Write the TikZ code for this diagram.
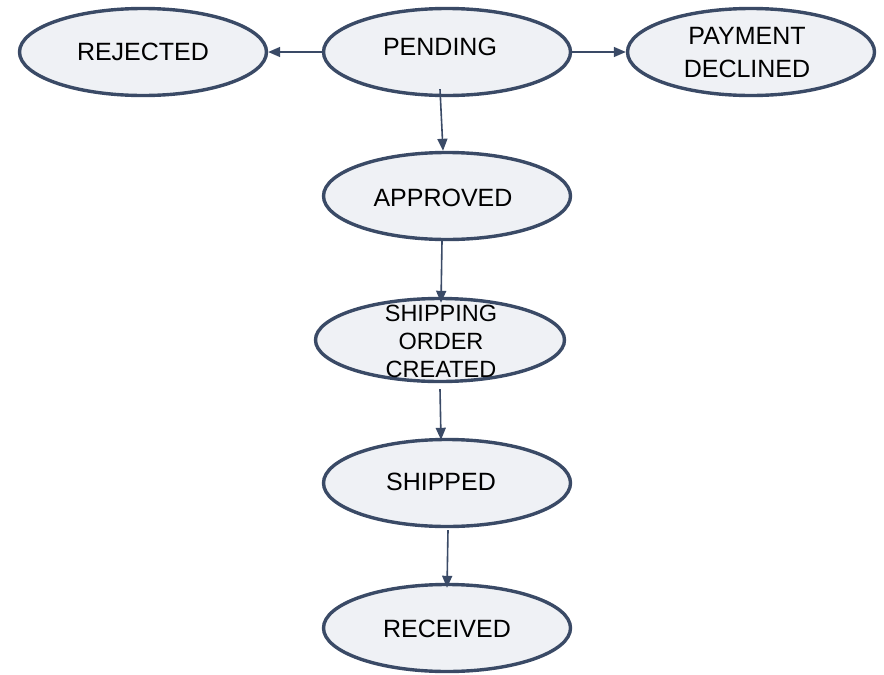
\documentclass[tikz,border=0pt]{standalone}
\usepackage{fontspec}
\setmainfont{Liberation Sans}
\usetikzlibrary{shapes.geometric,arrows.meta}
\definecolor{edgecol}{HTML}{3A4A66}
\definecolor{fillcol}{HTML}{EFF1F5}
\tikzset{
  statebox/.style={ellipse, draw=edgecol, fill=fillcol, line width=3.4pt,
    minimum width=247pt, minimum height=87pt, inner sep=0pt},
  lbl/.style={font=\fontsize{25}{33}\selectfont, align=center, text=black, inner sep=0pt},
  smalllbl/.style={font=\fontsize{23.5}{28}\selectfont, align=center, text=black, inner sep=0pt},
  arr/.style={draw=edgecol, line width=1.6pt, -{Triangle[length=12pt,width=10pt]}}
}
\begin{document}
\begin{tikzpicture}[x=1pt,y=-1pt]
\useasboundingbox (0,0) rectangle (884,675);
\node[statebox] (rej) at (143,52) {};
\node[statebox] (pend) at (447,52) {};
\node[statebox] (pay) at (751,52) {};
\node[statebox] (appr) at (447,196) {};
\node[statebox, minimum width=249pt, minimum height=83pt] (ship) at (440,340) {};
\node[statebox] (shpd) at (447,483) {};
\node[statebox] (recv) at (447,628) {};

\node[lbl] (trej) at (143,52) {REJECTED};
\node[lbl] (tpend) at (440,47) {PENDING};
\node[lbl] (tpay) at (747,53) {PAYMENT\\DECLINED};
\node[lbl] (tappr) at (443,198) {APPROVED};
\node[smalllbl] (tship) at (441,341) {SHIPPING\\ORDER\\CREATED};
\node[lbl] (tshpd) at (441,482) {SHIPPED};
\node[lbl] (trecv) at (447,629) {RECEIVED};

\draw[arr] (pend.west) -- (rej.east);
\draw[arr] (pend.east) -- (pay.west);
\draw[arr] ([xshift=-7pt,yshift=8pt]pend.south) -- ([xshift=-4pt]appr.north);
\draw[arr] ([xshift=-5pt]appr.south) -- ([xshift=1pt,yshift=-6pt]ship.north);
\draw[arr] ([yshift=-6pt]ship.south) -- ([xshift=-6pt,yshift=-2pt]shpd.north);
\draw[arr] ([xshift=1pt,yshift=-2pt]shpd.south) -- ([yshift=-5pt]recv.north);
\end{tikzpicture}
\end{document}
